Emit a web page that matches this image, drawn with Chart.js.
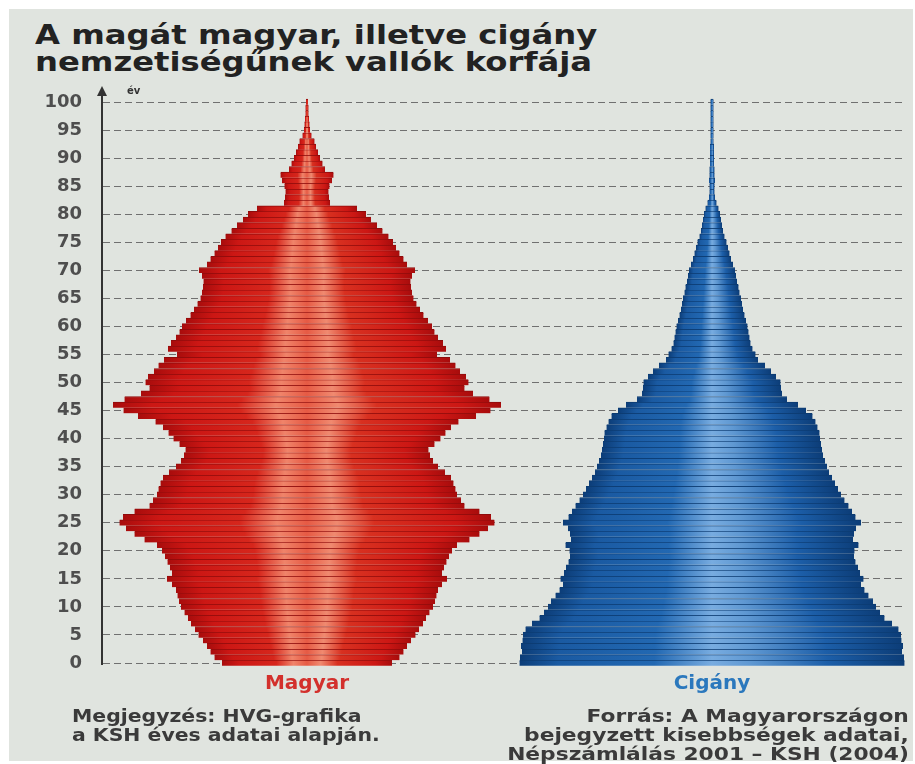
<!DOCTYPE html>
<html lang="hu">
<head>
<meta charset="utf-8">
<title>Korfa</title>
<script src="https://cdn.jsdelivr.net/npm/chart.js@4"></script>
<style>
  body { margin: 0; background: #fff; width: 915px; height: 764px; overflow: hidden; position: relative; font-family: "DejaVu Sans", sans-serif; }
  #panel { position: absolute; left: 9px; top: 9px; width: 904px; height: 752px; background: #e0e4df; }
  #korfa { position: absolute; left: 0; top: 0; }
  #title { position: absolute; left: 35px; top: 22px; margin: 0; font: bold 26px/27px "DejaVu Sans", sans-serif; color: #222; transform: scaleX(1.24); transform-origin: left top; white-space: nowrap; }
  .note { position: absolute; top: 707px; font: bold 17px/19px "DejaVu Sans", sans-serif; color: #3a3a3a; white-space: nowrap; }
  .note.left { left: 72px; transform: scaleX(1.2); transform-origin: left top; }
  .note.right { right: 6px; text-align: right; transform: scaleX(1.28); transform-origin: right top; }
  #ev { position: absolute; left: 127px; top: 85px; font: bold 10px "DejaVu Sans", sans-serif; color: #333; }
</style>
</head>
<body>
<div id="panel"></div>
<h1 id="title">A magát magyar, illetve cigány<br>nemzetiségűnek vallók korfája</h1>
<canvas id="korfa" width="915" height="764"></canvas>
<span id="ev">év</span>
<div class="note left">Megjegyzés: HVG-grafika<br>a KSH éves adatai alapján.</div>
<div class="note right">Forrás: A Magyarországon<br>bejegyzett kisebbségek adatai,<br>Népszámlálás 2001 – KSH (2004)</div>

<script>
// age groups 0..100 (one row per year)
const ages = Array.from({ length: 101 }, (_, i) => i);

const groups = ['Magyar', 'Cigány'];
const groupColors = ['#d3302c', '#2b78bd'];

// row widths (relative units, full width of a row)
const magyarValues = [
    170, 185, 193, 200, 208, 217, 224, 232, 238, 245,
    252, 256, 259, 262, 270, 280, 270, 274, 279, 284,
    290, 300, 325, 345, 362, 375, 368, 345, 315, 308,
    300, 297, 293, 288, 276, 262, 252, 246, 243, 255,
    267, 277, 288, 303, 338, 367, 388, 365, 332, 315,
    323, 318, 306, 297, 286, 260, 278, 272, 262, 255,
    250, 242, 233, 226, 219, 213, 210, 208, 207, 210,
    216, 200, 193, 185, 178, 172, 163, 151, 140, 128,
    118, 100, 46, 44, 43, 45, 50, 53, 36, 31,
    26, 22, 18, 15, 9, 6, 5, 4, 3, 3, 2
];
const ciganyValues = [
    385, 384, 380, 382, 379, 378, 373, 360, 345, 336,
    328, 322, 313, 305, 298, 303, 296, 292, 287, 284,
    285, 293, 282, 284, 288, 298, 287, 280, 273, 265,
    258, 252, 246, 240, 234, 230, 226, 222, 220, 218,
    216, 215, 211, 207, 201, 188, 172, 150, 140, 138,
    137, 128, 118, 106, 92, 87, 81, 77, 75, 73,
    71, 68, 65, 62, 60, 58, 55, 53, 50, 48,
    46, 42, 38, 35, 32, 29, 25, 22, 20, 18,
    16, 13, 9, 6, 5, 5, 6, 5, 5, 4,
    4, 4, 4, 3, 3, 3, 3, 3, 3, 3, 3
];

// where each pyramid sits on the hidden x scale
const groupCenters = [204, 609];
const yTicks = { min: 0, max: 100, step: 5 };

const redStops = [[0, '#a80c0c'], [0.1, '#cc1714'], [0.32, '#d6261c'], [0.42, '#f0846a'], [0.5, '#e65a44'], [0.58, '#f08a70'], [0.68, '#d83020'], [0.9, '#cc1714'], [1, '#a80c0c']];
const blueStops = [[0, '#0c3d78'], [0.1, '#1a5aa2'], [0.35, '#2268b2'], [0.5, '#78ace0'], [0.6, '#5f98d2'], [0.8, '#1c5ea8'], [1, '#0c3d78']];

function rowGradient(context, stops) {
    const chart = context.chart;
    const raw = context.raw;
    if (!chart.chartArea || !raw) return stops[1][1];
    const xs = chart.scales.x;
    const x0 = xs.getPixelForValue(raw.x[0]);
    const x1 = xs.getPixelForValue(raw.x[1]);
    if (!(x1 - x0 > 0.5)) return stops[1][1];
    const g = chart.ctx.createLinearGradient(x0, 0, x1, 0);
    stops.forEach(s => g.addColorStop(s[0], s[1]));
    return g;
}

function rows(values, center) {
    return ages.map((a, i) => ({ y: a, x: [center - values[i] / 2, center + values[i] / 2] }));
}

// vertical axis with arrow head
const axisArrow = {
    id: 'axisArrow',
    afterDraw(chart) {
        const c = chart.ctx;
        const area = chart.chartArea;
        const x = area.left - 1;
        c.save();
        c.strokeStyle = '#333';
        c.lineWidth = 2;
        c.beginPath();
        c.moveTo(x, area.bottom + 2);
        c.lineTo(x, area.top - 8);
        c.stroke();
        c.fillStyle = '#333';
        c.beginPath();
        c.moveTo(x, area.top - 16);
        c.lineTo(x - 5, area.top - 6);
        c.lineTo(x + 5, area.top - 6);
        c.closePath();
        c.fill();
        c.restore();
    }
};

const ctx = document.getElementById('korfa').getContext('2d');
new Chart(ctx, {
    type: 'bar',
    data: {
        datasets: [
            {
                label: groups[0],
                data: rows(magyarValues, groupCenters[0]),
                backgroundColor: c => rowGradient(c, redStops),
                borderColor: '#8e0b0b',
                borderWidth: { top: 1, bottom: 0, left: 0, right: 0 },
                borderSkipped: false,
                clip: false
            },
            {
                label: groups[1],
                data: rows(ciganyValues, groupCenters[1]),
                backgroundColor: c => rowGradient(c, blueStops),
                borderColor: '#0b3a70',
                borderWidth: { top: 1, bottom: 0, left: 0, right: 0 },
                borderSkipped: false,
                clip: false
            }
        ]
    },
    options: {
        indexAxis: 'y',
        responsive: false,
        animation: false,
        layout: { padding: { left: 0, right: 10, top: 102, bottom: 71 } },
        datasets: { bar: { barPercentage: 1, categoryPercentage: 1, grouped: false } },
        plugins: {
            legend: { display: false },
            tooltip: { enabled: false }
        },
        scales: {
            x: {
                type: 'linear',
                min: 0,
                max: 802,
                bounds: 'data',
                grid: { display: false },
                border: { display: false },
                afterBuildTicks: scale => { scale.ticks = groupCenters.map(v => ({ value: v })); },
                afterFit: scale => { scale.height = 30; },
                ticks: {
                    autoSkip: false,
                    maxRotation: 0,
                    padding: 1,
                    callback: (v, i) => groups[i],
                    color: c => groupColors[c.index],
                    font: { family: 'DejaVu Sans', size: 20, weight: 'bold' }
                }
            },
            y: {
                type: 'linear',
                min: yTicks.min,
                max: yTicks.max,
                offset: false,
                afterFit: scale => { scale.width = 103; },
                grid: {
                    offset: false,
                    drawTicks: false,
                    color: '#707070',
                    lineWidth: 1
                },
                border: { display: false, dash: [7, 4] },
                ticks: {
                    stepSize: yTicks.step,
                    maxTicksLimit: 21,
                    autoSkip: false,
                    padding: 21,
                    color: '#4e4e4e',
                    font: { family: 'DejaVu Sans', size: 18, weight: 'bold' }
                }
            }
        }
    },
    plugins: [axisArrow]
});
</script>
</body>
</html>
